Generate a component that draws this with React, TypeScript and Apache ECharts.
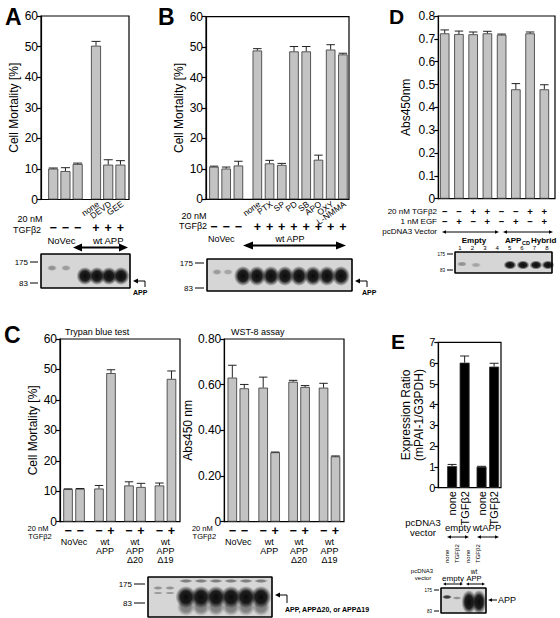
import React, { useEffect, useRef } from "react";
import * as echarts from "echarts";

const FONT = "'Liberation Sans', Arial, Helvetica, sans-serif";

// ---------- Panel A: Cell Mortality [%] ----------
const aPos = [1, 2, 3, 4.5, 5.5, 6.5];
const aVal = [10.1, 9.3, 11.6, 50.3, 11.4, 11.4];
const aErr = [10.3, 10.4, 11.9, 51.7, 13.0, 12.7];
const aNames = ["", "", "", "none", "DEVD", "GEE"];
const aTgf = ["−", "−", "−", "+", "+", "+"];

// ---------- Panel B: Cell Mortality [%] ----------
const bPos = [1, 2, 3, 4.55, 5.55, 6.55, 7.55, 8.55, 9.55, 10.55, 11.55];
const bVal = [10.7, 10.1, 11.1, 48.9, 11.8, 11.3, 48.6, 48.6, 13.0, 49.2, 47.6];
const bErr = [10.9, 10.6, 12.5, 49.5, 12.8, 11.8, 50.2, 50.2, 14.5, 50.8, 48.0];
const bNames = ["", "", "", "none", "PTX", "SP", "PD", "SB", "APO", "OXY", "L-NMMA"];
const bTgf = ["−", "−", "−", "+", "+", "+", "+", "+", "+", "+", "+"];

// ---------- Panel C ----------
const cPos = [0.67, 1.67, 3.25, 4.25, 5.75, 6.75, 8.29, 9.29];
const cTgf = ["−", "−", "−", "+", "−", "+", "−", "+"];
const cGroups = [["NoVec"], ["wt", "APP"], ["wt", "APP", "Δ20"], ["wt", "APP", "Δ19"]];
const cTrypanVal = [10.7, 10.8, 10.9, 48.8, 11.9, 11.4, 11.9, 46.9];
const cTrypanErr = [10.8, 10.9, 11.9, 49.9, 13.1, 12.6, 12.7, 49.5];
const cWstVal = [0.631, 0.584, 0.587, 0.304, 0.613, 0.59, 0.587, 0.286];
const cWstErr = [0.685, 0.601, 0.633, 0.305, 0.619, 0.596, 0.606, 0.288];

// ---------- Panel D: Abs450nm ----------
const dPos = [1, 2, 3, 4, 5, 6, 7, 8];
const dVal = [0.724, 0.721, 0.72, 0.724, 0.718, 0.479, 0.724, 0.479];
const dErr = [0.739, 0.734, 0.73, 0.733, 0.721, 0.504, 0.73, 0.499];
const dTgf = ["−", "−", "+", "+", "−", "−", "+", "+"];
const dEgf = ["−", "+", "−", "+", "−", "+", "−", "+"];
const dLanes = ["1", "2", "3", "4", "5", "6", "7", "8"];

// ---------- Panel E: Expression Ratio ----------
const ePos = [1.1, 2.1, 3.45, 4.45];
const eVal = [1.04, 6.02, 1.01, 5.83];
const eErr = [1.12, 6.34, 1.03, 5.99];
const eNames = ["none", "TGFβ2", "none", "TGFβ2"];

const intFmt = (v: number) => String(v);
const f2 = (v: number) => (v === 0 ? "0" : v.toFixed(2));
const f1 = (v: number) => (v === 0 ? "0" : v.toFixed(1));

const panels = [
  { grid: { left: 41, top: 16, width: 88, height: 183.5 }, xmin: 0, xmax: 7.2, ymax: 60, interval: 10, pos: aPos, val: aVal, err: aErr, color: "#c3c3c3", bw: 10, yName: "Cell Mortality [%]", gap: 17, fmt: intFmt, fs: 12 },
  { grid: { left: 206, top: 16.7, width: 143, height: 182.6 }, xmin: 0.35, xmax: 12.05, ymax: 60, interval: 10, pos: bPos, val: bVal, err: bErr, color: "#c3c3c3", bw: 9.5, yName: "Cell Mortality [%]", gap: 21, fmt: intFmt, fs: 12 },
  { grid: { left: 60, top: 339, width: 120, height: 182.7 }, xmin: 0, xmax: 10, ymax: 60, interval: 10, pos: cPos, val: cTrypanVal, err: cTrypanErr, color: "#c3c3c3", bw: 9.5, yName: "Cell Mortality [%]", gap: 20, fmt: intFmt, fs: 12 },
  { grid: { left: 224.3, top: 339, width: 119.7, height: 182.7 }, xmin: 0, xmax: 10, ymax: 0.8, interval: 0.2, pos: cPos, val: cWstVal, err: cWstErr, color: "#c3c3c3", bw: 9.5, yName: "Abs450 nm", gap: 27, fmt: f2, fs: 12 },
  { grid: { left: 438.3, top: 16, width: 116.7, height: 182.7 }, xmin: 0.55, xmax: 8.75, ymax: 0.8, interval: 0.1, pos: dPos, val: dVal, err: dErr, color: "#c3c3c3", bw: 9.5, yName: "Abs450nm", gap: 26, fmt: f1, fs: 12 },
  { grid: { left: 438.3, top: 342.3, width: 62.7, height: 145.4 }, xmin: 0, xmax: 5, ymax: 7, interval: 1, pos: ePos, val: eVal, err: eErr, color: "#000", bw: 10, yName: "Expression Ratio\n(mPAI-1/G3PDH)", gap: 9, fmt: intFmt, fs: 11 },
];

function buildOption(): any {
  const grid: any[] = [];
  const xAxis: any[] = [];
  const yAxis: any[] = [];
  const series: any[] = [];
  panels.forEach((p, i) => {
    grid.push({ ...p.grid, show: true, borderColor: "#000", borderWidth: 1.2, containLabel: false });
    xAxis.push({ type: "value", gridIndex: i, min: p.xmin, max: p.xmax, show: false });
    yAxis.push({
      type: "value", gridIndex: i, min: 0, max: p.ymax, interval: p.interval,
      axisLine: { show: true, lineStyle: { color: "#000", width: 1.2 } },
      axisTick: { show: true, length: 4, lineStyle: { color: "#000", width: 1.2 } },
      splitLine: { show: false },
      axisLabel: { color: "#000", fontSize: p.fs, fontFamily: FONT, margin: 3, formatter: p.fmt },
      name: p.yName, nameLocation: "middle", nameGap: p.gap,
      nameTextStyle: { color: "#000", fontSize: 12, fontFamily: FONT, lineHeight: 13 },
    });
    series.push({
      type: "bar", xAxisIndex: i, yAxisIndex: i, barWidth: p.bw,
      data: p.pos.map((x, j) => [x, p.val[j]]),
      itemStyle: { color: p.color, borderColor: "#333", borderWidth: 0.8 },
    });
    const cap = p.bw / 2 - 0.5;
    series.push({
      type: "custom", xAxisIndex: i, yAxisIndex: i, z: 5,
      encode: { x: 0, y: [1, 2] },
      data: p.pos.map((x, j) => [x, p.val[j], p.err[j]]),
      renderItem: (_params: any, api: any) => {
        const x = api.value(0);
        const a = api.coord([x, api.value(1)]);
        const b = api.coord([x, api.value(2)]);
        return {
          type: "group",
          children: [
            { type: "line", shape: { x1: a[0], y1: a[1], x2: b[0], y2: b[1] }, style: { stroke: "#222", lineWidth: 1 } },
            { type: "line", shape: { x1: b[0] - cap, y1: b[1], x2: b[0] + cap, y2: b[1] }, style: { stroke: "#222", lineWidth: 1 } },
          ],
        };
      },
    });
  });
  return { animation: false, backgroundColor: "#fff", grid, xAxis, yAxis, series };
}

type TO = { size?: number; bold?: boolean; align?: string; va?: string; rot?: number; fill?: string };
function T(x: number, y: number, text: string, o: TO = {}): any {
  const align = o.align || "center";
  const va = o.va || "middle";
  return {
    type: "text", x, y, rotation: o.rot || 0, silent: true,
    style: {
      text, fill: o.fill || "#000",
      font: `${o.bold ? "bold " : ""}${o.size || 10}px ${FONT}`,
      textAlign: align, textVerticalAlign: va, align, verticalAlign: va,
    },
  };
}
function L(x1: number, y1: number, x2: number, y2: number, w = 1): any {
  return { type: "line", silent: true, shape: { x1, y1, x2, y2 }, style: { stroke: "#000", lineWidth: w } };
}
function head(x: number, y: number, dir: number, len: number, w: number): any {
  return { type: "polygon", silent: true, shape: { points: [[x, y], [x + dir * len, y - w], [x + dir * len, y + w]] }, style: { fill: "#000" } };
}
function dArrow(x1: number, x2: number, y: number, lw: number, len: number, w: number): any[] {
  return [L(x1 + len * 0.6, y, x2 - len * 0.6, y, lw), head(x1, y, 1, len, w), head(x2, y, -1, len, w)];
}
function band(cx: number, cy: number, rx: number, ry: number, alpha: number): any {
  return {
    type: "ellipse", silent: true, shape: { cx, cy, rx, ry },
    style: {
      fill: {
        type: "radial", x: 0.5, y: 0.5, r: 0.5,
        colorStops: [
          { offset: 0, color: `rgba(10,10,10,${alpha})` },
          { offset: 0.55, color: `rgba(15,15,15,${alpha * 0.92})` },
          { offset: 1, color: "rgba(20,20,20,0)" },
        ],
      },
    },
  };
}
function blot(x: number, y: number, w: number, h: number): any {
  return { type: "rect", silent: true, shape: { x, y, width: w, height: h }, style: { fill: "#d6d6d6", stroke: "#000", lineWidth: 1 } };
}
function blotFrame(x: number, y: number, w: number, h: number): any {
  return { type: "rect", silent: true, shape: { x, y, width: w, height: h }, style: { fill: "none", stroke: "#000", lineWidth: 1.2 } };
}

function buildGraphics(chart: any): any[] {
  const px = (i: number, x: number) => chart.convertToPixel({ xAxisIndex: i }, x) as number;
  const g: any[] = [];
  const mw = (x: number, y: number, lab: string, size: number, dash: number) => {
    g.push(T(x - dash - 2, y, lab, { size, align: "right" }));
    g.push(L(x - dash, y, x, y, 1));
  };

  // ---------- A ----------
  g.push(T(5, 5, "A", { size: 23, bold: true, align: "left", va: "top" }));
  aPos.forEach((p, j) => {
    const cx = px(0, p);
    if (aNames[j]) g.push(T(cx + 2, 203, aNames[j], { size: 8.5, align: "right", rot: 0.62 }));
    g.push(T(cx, 227.5, aTgf[j], { size: 12.5, bold: true }));
  });
  g.push(T(30, 219, "20 nM", { size: 9 }));
  g.push(T(27, 229.5, "TGFβ2", { size: 9 }));
  g.push(T((px(0, aPos[0]) + px(0, aPos[2])) / 2 - 4, 240.5, "NoVec", { size: 9.5 }));
  g.push(T((px(0, aPos[3]) + px(0, aPos[5])) / 2, 240.5, "wt APP", { size: 9.5 }));
  g.push(...dArrow(73, 128, 247.5, 2.2, 9, 4));
  g.push(blot(41, 254, 89, 34));
  g.push(band(52, 268, 5, 3, 0.35), band(66, 268, 5, 3, 0.3));
  [85, 97, 109, 121].forEach((c) => g.push(band(c, 276, 8.5, 9, 1)));
  g.push(blotFrame(41, 254, 89, 34));
  mw(38, 262, "175", 8, 8);
  mw(38, 283, "83", 8, 8);
  g.push({ type: "polyline", silent: true, shape: { points: [[137, 281], [145, 281], [145, 287]] }, style: { stroke: "#000", lineWidth: 1, fill: "none" } });
  g.push(head(133, 281, 1, 5, 2.5));
  g.push(T(133, 292, "APP", { size: 7, bold: true, align: "left" }));

  // ---------- B ----------
  g.push(T(158, 5, "B", { size: 23, bold: true, align: "left", va: "top" }));
  bPos.forEach((p, j) => {
    const cx = px(1, p);
    if (bNames[j]) g.push(T(cx + 2, 203, bNames[j], { size: 8.5, align: "right", rot: 0.62 }));
    g.push(T(cx, 227, bTgf[j], { size: 12.5, bold: true }));
  });
  g.push(T(194, 216, "20 nM", { size: 9 }));
  g.push(T(193, 226, "TGFβ2", { size: 9 }));
  g.push(T(208, 238.5, "NoVec", { size: 9, align: "left" }));
  g.push(T(290, 238.5, "wt APP", { size: 9 }));
  g.push(...dArrow(243, 346, 245.5, 2.2, 10, 4));
  g.push(blot(207, 259, 145, 32));
  g.push(band(217, 272, 5, 3, 0.3), band(228, 272, 5, 3, 0.25));
  [243, 257, 271, 285, 299, 313, 327, 341].forEach((c) => g.push(band(c, 276, 9, 10, 1)));
  g.push(blotFrame(207, 259, 145, 32));
  mw(204, 263, "175", 8, 9);
  mw(204, 288, "83", 8, 9);
  g.push({ type: "polyline", silent: true, shape: { points: [[359, 281], [367, 281], [367, 287]] }, style: { stroke: "#000", lineWidth: 1, fill: "none" } });
  g.push(head(355, 281, 1, 5, 2.5));
  g.push(T(362, 292, "APP", { size: 7, bold: true, align: "left" }));

  // ---------- C ----------
  g.push(T(4, 323, "C", { size: 23, bold: true, align: "left", va: "top" }));
  g.push(T(65, 332, "Trypan blue test", { size: 9, align: "left" }));
  g.push(T(231, 332, "WST-8 assay", { size: 9, align: "left" }));
  [2, 3].forEach((pi) => {
    const off = pi === 2 ? 0 : 164.3;
    g.push(T(38 + off, 528.5, "20 nM", { size: 7.5 }));
    g.push(T(40 + off, 536.5, "TGFβ2", { size: 7.5 }));
    cPos.forEach((p, j) => g.push(T(px(pi, p), 530.5, cTgf[j], { size: 12.5, bold: true })));
    cGroups.forEach((grp, k) => {
      const cx = (px(pi, cPos[2 * k]) + px(pi, cPos[2 * k + 1])) / 2;
      grp.forEach((s, r) => g.push(T(cx, 542 + r * 9, s, { size: 9 })));
    });
  });
  g.push(blot(148, 577, 124, 40));
  g.push(band(158, 588, 5, 2, 0.35), band(170, 588, 5, 2, 0.35), band(158, 593, 5, 1.6, 0.3), band(170, 593, 5, 1.6, 0.3));
  [186, 201, 216, 231, 246, 261].forEach((c) => {
    g.push(band(c, 581, 7, 2, 0.45));
    g.push(band(c, 607, 9, 9, 0.45));
    g.push(band(c, 597, 10.5, 11, 1));
  });
  g.push(blotFrame(148, 577, 124, 40));
  mw(145, 584, "175", 8, 11);
  mw(145, 603, "83", 8, 11);
  g.push({ type: "polyline", silent: true, shape: { points: [[279, 595], [287, 595], [287, 603]] }, style: { stroke: "#000", lineWidth: 1, fill: "none" } });
  g.push(head(275, 595, 1, 5, 2.5));
  g.push(T(285, 609, "APP, APPΔ20, or APPΔ19", { size: 7, bold: true, align: "left" }));

  // ---------- D ----------
  g.push(T(389, 6, "D", { size: 21, bold: true, align: "left", va: "top" }));
  g.push(T(437, 211, "20 nM TGFβ2", { size: 8, align: "right" }));
  g.push(T(437, 221, "1 nM EGF", { size: 8, align: "right" }));
  g.push(T(437, 231, "pcDNA3 Vector", { size: 8, align: "right" }));
  dPos.forEach((p, j) => {
    const cx = px(4, p);
    g.push(T(cx, 211, dTgf[j], { size: 9.5, bold: true }));
    g.push(T(cx, 221, dEgf[j], { size: 9.5, bold: true }));
  });
  g.push(...dArrow(442, 499, 232, 1, 4, 1.8));
  g.push(...dArrow(503, 553, 232, 1, 4, 1.8));
  g.push(T(474, 240, "Empty", { size: 8, bold: true }));
  g.push(T(505, 240, "APP", { size: 8, bold: true, align: "left" }));
  g.push(T(522, 242.5, "CD", { size: 5.5, bold: true, align: "left" }));
  g.push(T(531, 240, "Hybrid", { size: 8, bold: true, align: "left" }));
  dLanes.forEach((s, j) => g.push(T(460 + j * 12.4, 248.3, s, { size: 6 })));
  g.push(blot(455, 252, 97, 21));
  g.push(band(462, 264, 5, 2.5, 0.35), band(476, 265, 5, 2.5, 0.25));
  [510, 523, 536, 548].forEach((c) => g.push(band(c, 265, 6.5, 4.5, 1)));
  g.push(blotFrame(455, 252, 97, 21));
  mw(453, 254, "175", 4.5, 6);
  mw(453, 270, "83", 4.5, 6);

  // ---------- E ----------
  g.push(T(391, 331, "E", { size: 21, bold: true, align: "left", va: "top" }));
  ePos.forEach((p, j) => g.push(T(px(5, p), 491, eNames[j], { size: 11, align: "right", rot: Math.PI / 2 })));
  g.push(T(423, 522.5, "pcDNA3", { size: 9.5 }));
  g.push(T(423, 532, "vector", { size: 9.5 }));
  g.push(T(458, 527, "empty", { size: 9.5 }));
  g.push(T(487, 527, "wtAPP", { size: 9.5 }));
  g.push(...dArrow(447, 469, 537, 1, 4, 1.8));
  g.push(...dArrow(477, 499, 537, 1, 4, 1.8));
  [447, 457, 468, 478].forEach((x, j) => g.push(T(x, 563, eNames[j], { size: 6, align: "left", rot: Math.PI / 2 })));
  g.push(T(422, 571, "pcDNA3", { size: 6 }));
  g.push(T(423, 578, "vector", { size: 6 }));
  g.push(T(453, 578, "empty", { size: 8 }));
  g.push(T(474, 571, "wt", { size: 6.5 }));
  g.push(T(474, 578.5, "APP", { size: 7.5 }));
  g.push(...dArrow(443, 463, 584, 1, 3, 1.5));
  g.push(...dArrow(466, 485, 584, 1, 3, 1.5));
  g.push(blot(441, 588, 45, 25));
  g.push(band(447, 597, 5, 2.2, 0.8), band(457, 598, 4.5, 1.8, 0.35));
  g.push(band(469, 602, 7.5, 12, 1), band(479, 602, 7.5, 12, 1));
  g.push(blotFrame(441, 588, 45, 25));
  mw(439, 590, "175", 4.5, 5);
  mw(439, 611, "83", 4.5, 5);
  g.push(L(492, 600, 497, 600, 1), head(488, 600, 1, 4, 1.8));
  g.push(T(498, 600, "APP", { size: 9, align: "left" }));
  return g;
}

export default function App() {
  const ref = useRef<HTMLDivElement>(null);
  useEffect(() => {
    document.body.style.margin = "0";
    const chart = echarts.init(ref.current as HTMLDivElement, undefined, { renderer: "svg" });
    chart.setOption(buildOption());
    chart.setOption({ graphic: { elements: buildGraphics(chart) } });
    return () => chart.dispose();
  }, []);
  return <div ref={ref} style={{ width: 560, height: 618 }} />;
}
